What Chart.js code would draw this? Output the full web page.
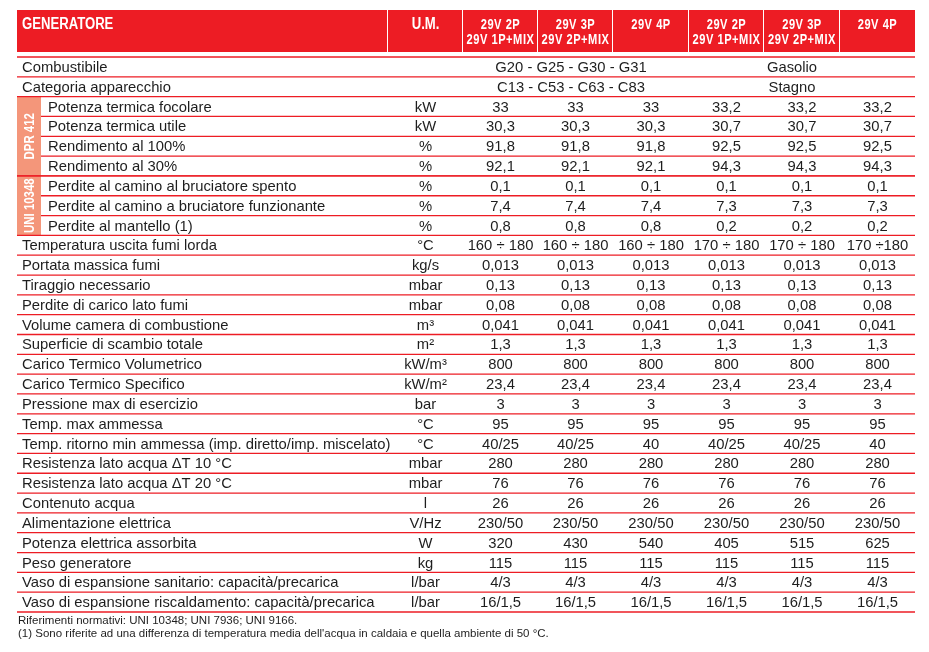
<!DOCTYPE html>
<html lang="it">
<head>
<meta charset="utf-8">
<title>Generatore - dati tecnici</title>
<script src="https://cdn.jsdelivr.net/npm/chart.js@4.4.1/dist/chart.umd.min.js"></script>
<style>
  html, body { margin: 0; padding: 0; background: #fff; }
  #tabella { display: block; }
</style>
</head>
<body>
<canvas id="tabella" width="929" height="652"></canvas>
<script>
// ===== Dati =====
const intestazioni = [
  ["29V 2P", "29V 1P+MIX"],
  ["29V 3P", "29V 2P+MIX"],
  ["29V 4P"],
  ["29V 2P", "29V 1P+MIX"],
  ["29V 3P", "29V 2P+MIX"],
  ["29V 4P"],
];

const voci = [
  "Combustibile",
  "Categoria apparecchio",
  "Potenza termica focolare",
  "Potenza termica utile",
  "Rendimento al 100%",
  "Rendimento al 30%",
  "Perdite al camino al bruciatore spento",
  "Perdite al camino a bruciatore funzionante",
  "Perdite al mantello (1)",
  "Temperatura uscita fumi lorda",
  "Portata massica fumi",
  "Tiraggio necessario",
  "Perdite di carico lato fumi",
  "Volume camera di combustione",
  "Superficie di scambio totale",
  "Carico Termico Volumetrico",
  "Carico Termico Specifico",
  "Pressione max di esercizio",
  "Temp. max ammessa",
  "Temp. ritorno min ammessa (imp. diretto/imp. miscelato)",
  "Resistenza lato acqua ΔT 10 °C",
  "Resistenza lato acqua ΔT 20 °C",
  "Contenuto acqua",
  "Alimentazione elettrica",
  "Potenza elettrica assorbita",
  "Peso generatore",
  "Vaso di espansione sanitario: capacità/precarica",
  "Vaso di espansione riscaldamento: capacità/precarica",
];

const unita = [
  "", "", "kW", "kW", "%", "%", "%", "%", "%", "°C", "kg/s", "mbar", "mbar",
  "m³", "m²", "kW/m³", "kW/m²", "bar", "°C", "°C", "mbar", "mbar", "l",
  "V/Hz", "W", "kg", "l/bar", "l/bar",
];

// righe unite (gas | gasolio)
const combustibile = ["G20 - G25 - G30 - G31", "Gasolio"];
const categoria = ["C13 - C53 - C63 - C83", "Stagno"];

// valori dalla riga 3 in poi, una lista per colonna
const gas2P = ["33", "30,3", "91,8", "92,1", "0,1", "7,4", "0,8", "160 ÷ 180", "0,013", "0,13", "0,08", "0,041", "1,3", "800", "23,4", "3", "95", "40/25", "280", "76", "26", "230/50", "320", "115", "4/3", "16/1,5"];
const gas3P = ["33", "30,3", "91,8", "92,1", "0,1", "7,4", "0,8", "160 ÷ 180", "0,013", "0,13", "0,08", "0,041", "1,3", "800", "23,4", "3", "95", "40/25", "280", "76", "26", "230/50", "430", "115", "4/3", "16/1,5"];
const gas4P = ["33", "30,3", "91,8", "92,1", "0,1", "7,4", "0,8", "160 ÷ 180", "0,013", "0,13", "0,08", "0,041", "1,3", "800", "23,4", "3", "95", "40", "280", "76", "26", "230/50", "540", "115", "4/3", "16/1,5"];
const gasolio2P = ["33,2", "30,7", "92,5", "94,3", "0,1", "7,3", "0,2", "170 ÷ 180", "0,013", "0,13", "0,08", "0,041", "1,3", "800", "23,4", "3", "95", "40/25", "280", "76", "26", "230/50", "405", "115", "4/3", "16/1,5"];
const gasolio3P = ["33,2", "30,7", "92,5", "94,3", "0,1", "7,3", "0,2", "170 ÷ 180", "0,013", "0,13", "0,08", "0,041", "1,3", "800", "23,4", "3", "95", "40/25", "280", "76", "26", "230/50", "515", "115", "4/3", "16/1,5"];
const gasolio4P = ["33,2", "30,7", "92,5", "94,3", "0,1", "7,3", "0,2", "170 ÷180", "0,013", "0,13", "0,08", "0,041", "1,3", "800", "23,4", "3", "95", "40", "280", "76", "26", "230/50", "625", "115", "4/3", "16/1,5"];

// gruppi laterali: [etichetta, prima riga, ultima riga]
const gruppi = [["DPR 412", 2, 5], ["UNI 10348", 6, 8]];

const note = [
  "Riferimenti normativi: UNI 10348; UNI 7936; UNI 9166.",
  "(1) Sono riferite ad una differenza di temperatura media dell'acqua in caldaia e quella ambiente di 50 °C.",
];

// ===== Layout / stile =====
const colonne = [gas2P, gas3P, gas4P, gasolio2P, gasolio3P, gasolio4P];
const BORDI = [0, 371, 446, 521, 596, 672, 747, 823, 898]; // bordi colonne in unità dell'asse x
const ROSSO = "#ed1c24";
const SALMONE = "#f4967a";
const TESTO = "#1e1e1e";
const F_CORPO = "14.8px 'Liberation Sans', Arial, sans-serif";
const F_TESTA = "bold 15px 'Liberation Sans', Arial, sans-serif";

// testo "stretto": il font condensato non c'è, si comprime in orizzontale
function scriviStretto(ctx, t, x, y, k) {
  ctx.save();
  ctx.translate(x, y);
  ctx.scale(k, 1);
  ctx.fillText(t, 0, 0);
  ctx.restore();
}

const pluginTabella = {
  id: "tabella",
  afterDraw(chart) {
    const ctx = chart.ctx;
    const x = chart.scales.x, y = chart.scales.y;
    const px = v => x.getPixelForValue(v);
    const banda = y.getPixelForValue(1) - y.getPixelForValue(0);
    const alto = i => y.getPixelForValue(i) - banda / 2;
    const centroCol = c => (px(BORDI[c]) + px(BORDI[c + 1])) / 2;
    const sx = px(0), dx = px(BORDI[BORDI.length - 1]);

    ctx.save();

    // --- testata rossa
    const hTop = 10, hBot = 52;
    ctx.fillStyle = ROSSO;
    ctx.fillRect(sx, hTop, dx - sx, hBot - hTop);
    ctx.fillStyle = "#fff";
    for (let c = 1; c < BORDI.length - 1; c++) {
      ctx.fillRect(Math.round(px(BORDI[c])) - 1, hTop, 1, hBot - hTop);
    }
    ctx.font = "bold 16px 'Liberation Sans', Arial, sans-serif";
    ctx.textBaseline = "alphabetic";
    ctx.textAlign = "left";
    scriviStretto(ctx, "GENERATORE", sx + 5, 28.5, 0.82);
    ctx.textAlign = "center";
    scriviStretto(ctx, "U.M.", centroCol(1), 28.5, 0.82);
    ctx.font = F_TESTA;
    ctx.letterSpacing = "0.7px";
    intestazioni.forEach((righe, i) => {
      righe.forEach((t, k) => scriviStretto(ctx, t, centroCol(i + 2), 28.5 + k * 15, 0.74));
    });
    ctx.letterSpacing = "0px";

    // --- fasce laterali
    const fx = sx, fw = 24;
    gruppi.forEach(([et, a, b]) => {
      ctx.fillStyle = SALMONE;
      ctx.fillRect(fx, alto(a), fw, alto(b + 1) - alto(a));
      ctx.save();
      ctx.translate(fx + fw / 2 + 1, (alto(a) + alto(b + 1)) / 2);
      ctx.rotate(-Math.PI / 2);
      ctx.fillStyle = "#fff";
      ctx.font = F_TESTA;
      ctx.textAlign = "center";
      ctx.textBaseline = "middle";
      scriviStretto(ctx, et, 0, 0, 0.76);
      ctx.restore();
    });

    // --- linee orizzontali
    const dentro = new Set();
    gruppi.forEach(([, a, b]) => { for (let i = a + 1; i <= b; i++) dentro.add(i); });
    ctx.strokeStyle = ROSSO;
    ctx.lineWidth = 1.3;
    for (let i = 0; i <= voci.length; i++) {
      const yy = alto(i);
      const inizio = dentro.has(i) ? fx + fw : sx;
      ctx.beginPath();
      ctx.moveTo(inizio, yy);
      ctx.lineTo(dx, yy);
      ctx.stroke();
    }
    // separazione tra i due gruppi laterali
    ctx.beginPath();
    ctx.moveTo(sx, alto(gruppi[1][1]));
    ctx.lineTo(dx, alto(gruppi[1][1]));
    ctx.stroke();

    // --- testi
    ctx.fillStyle = TESTO;
    ctx.font = F_CORPO;
    ctx.textBaseline = "middle";
    const rientro = i => gruppi.some(([, a, b]) => i >= a && i <= b);
    voci.forEach((v, i) => {
      const cy = y.getPixelForValue(i) + 1;
      ctx.textAlign = "left";
      ctx.fillText(v, rientro(i) ? sx + 31 : sx + 5, cy);
      ctx.textAlign = "center";
      ctx.fillText(unita[i], centroCol(1), cy);
      if (i < 2) {
        const unite = i === 0 ? combustibile : categoria;
        ctx.fillText(unite[0], (px(BORDI[2]) + px(BORDI[5])) / 2 - 5, cy);
        ctx.fillText(unite[1], (px(BORDI[5]) + px(BORDI[8])) / 2 - 10, cy);
      } else {
        colonne.forEach((col, c) => ctx.fillText(col[i - 2], centroCol(c + 2), cy));
      }
    });

    // --- note
    ctx.font = "11.5px 'Liberation Sans', Arial, sans-serif";
    ctx.textAlign = "left";
    ctx.fillText(note[0], sx + 1, 621);
    ctx.fillText(note[1], sx + 1, 634);

    ctx.restore();
  },
};

new Chart(document.getElementById("tabella"), {
  type: "bar",
  data: { labels: voci, datasets: [] },
  options: {
    indexAxis: "y",
    responsive: false,
    animation: false,
    layout: { padding: { left: 17, right: 14, top: 57, bottom: 40 } },
    scales: {
      x: { type: "linear", min: 0, max: BORDI[BORDI.length - 1], display: false },
      y: { type: "category", offset: true, display: false },
    },
    plugins: { legend: { display: false }, tooltip: { enabled: false } },
  },
  plugins: [pluginTabella],
});
</script>
</body>
</html>
